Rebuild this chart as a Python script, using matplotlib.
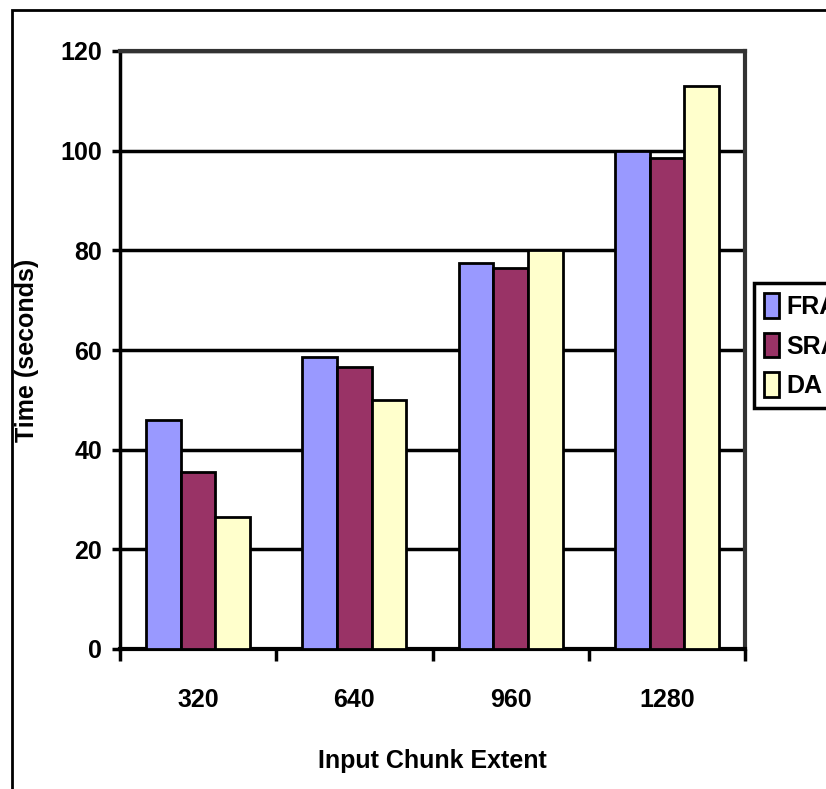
import matplotlib.pyplot as plt
from matplotlib.patches import Rectangle
import numpy as np

# data
chunk_extents = ["320", "640", "960", "1280"]
fra_times = [46, 58.5, 77.5, 100]
sra_times = [35.5, 56.5, 76.5, 98.5]
da_times = [26.5, 50, 80, 113]

series_names = ["FRA", "SRA", "DA"]
series_colors = ["#9999FF", "#993366", "#FFFFCC"]

plt.rcParams['font.family'] = ['Liberation Sans', 'DejaVu Sans']
plt.rcParams['font.weight'] = 'bold'
plt.rcParams['axes.labelweight'] = 'bold'

FS = 18
W, H = 826, 789
fig = plt.figure(figsize=(W / 100, H / 100), dpi=100)
ax = fig.add_axes([120 / W, 1 - 649 / H, 625 / W, 598 / H])

# chart area border (right and bottom run off the picture)
fig.add_artist(Rectangle((12 / W, -0.1), 1.2, 1 - 10 / H + 0.1,
                         transform=fig.transFigure, fill=False,
                         edgecolor='black', linewidth=2))

x = np.arange(len(chunk_extents))
bar_w = 0.222
for i, (vals, name, col) in enumerate(zip([fra_times, sra_times, da_times],
                                           series_names, series_colors)):
    ax.bar(x + (i - 1) * bar_w, vals, width=bar_w, color=col,
           edgecolor='black', linewidth=2, label=name, zorder=3)

ax.set_xlim(-0.5, len(chunk_extents) - 0.5)
ax.set_ylim(0, 120)
ax.set_yticks(np.arange(0, 121, 20))
ax.yaxis.grid(True, color='black', linewidth=2.5, zorder=0)
ax.set_axisbelow(True)

# x ticks at category boundaries, labels at centres
ax.set_xticks(np.arange(-0.5, len(chunk_extents), 1.0))
ax.set_xticklabels([])
ax.set_xticks(x, minor=True)
ax.set_xticklabels(chunk_extents, minor=True, fontsize=FS)
ax.tick_params(axis='x', which='major', direction='out', length=8.5,
               width=2.5, color='black')
ax.tick_params(axis='x', which='minor', length=0, pad=28)
ax.tick_params(axis='y', direction='out', length=5.8, width=2.5,
               pad=7, labelsize=FS)

for side in ['top', 'right']:
    ax.spines[side].set_color('#333333')
    ax.spines[side].set_linewidth(3)
ax.spines['left'].set_linewidth(2.5)
ax.spines['bottom'].set_linewidth(3)

ax.set_xlabel("Input Chunk Extent", fontsize=FS)
ax.set_ylabel("Time (seconds)", fontsize=FS)
ax.xaxis.set_label_coords(0.5, -0.168)
ax.yaxis.set_label_coords(-0.13, 0.5)

leg = ax.legend(loc='upper left', bbox_to_anchor=(754 / W, 1 - 283 / H),
                bbox_transform=fig.transFigure, fontsize=FS, frameon=True,
                fancybox=False, edgecolor='black', framealpha=1,
                handlelength=0.6, handleheight=1.15, handletextpad=0.3,
                labelspacing=0.55, borderpad=0.4, borderaxespad=0)
leg.get_frame().set_linewidth(2.5)

plt.savefig("out.png", dpi=100)
